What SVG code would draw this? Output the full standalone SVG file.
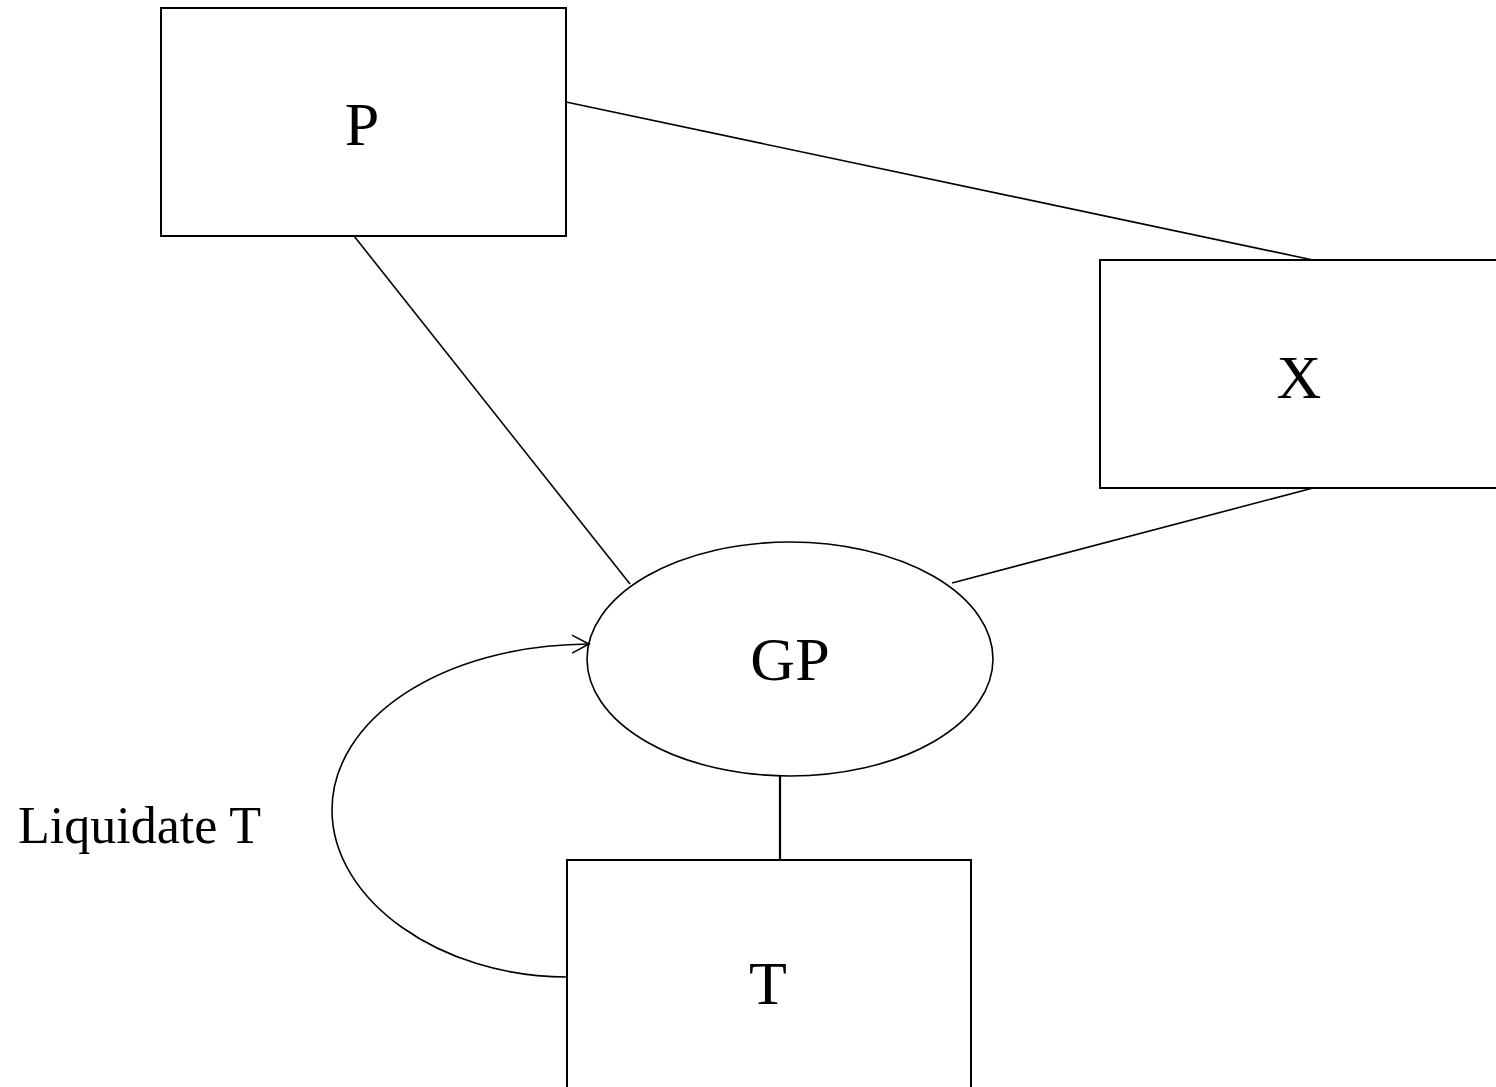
<svg xmlns="http://www.w3.org/2000/svg" width="1496" height="1087" viewBox="0 0 1496 1087">
<style>
.box{fill:#fff;stroke:#000;stroke-width:2}
.lbl{font-family:"Liberation Serif","Times New Roman",serif;font-size:62px;fill:#000;text-anchor:middle}
.edge{fill:none;stroke:#000;stroke-width:1.6}
</style>
<defs>
<marker id="arr" markerWidth="24" markerHeight="24" refX="20" refY="12" orient="auto" markerUnits="userSpaceOnUse">
<path d="M3,3 L20,12 L3,21" fill="none" stroke="#000" stroke-width="1.6"/>
</marker>
</defs>
<rect width="1496" height="1087" fill="#fff"/>
<g id="connectors">
<line class="edge" x1="566" y1="102" x2="1313" y2="260"/>
<line class="edge" x1="354" y1="236" x2="630" y2="584"/>
<line class="edge" x1="1313" y1="488" x2="952" y2="583"/>
<line class="edge" x1="780" y1="776" x2="780" y2="860" style="stroke-width:2.2"/>
<path class="edge" d="M567,977 C440,977 332,900 332,810 C332,720 440,645 589,644" marker-end="url(#arr)"/>
</g>
<g id="P"><rect class="box" x="161" y="8" width="405" height="228"/><text class="lbl" x="362" y="145">P</text></g>
<g id="X"><rect class="box" x="1100" y="260" width="410" height="228"/><text class="lbl" x="1299" y="398">X</text></g>
<g id="GP"><ellipse cx="790" cy="659" rx="203" ry="117" fill="none" stroke="#000" stroke-width="1.6"/><text class="lbl" x="790" y="680">GP</text></g>
<g id="T"><rect class="box" x="567" y="860" width="404" height="240"/><text class="lbl" x="768" y="1004">T</text></g>
<g id="label"><text x="18" y="843" style="font-family:'Liberation Serif','Times New Roman',serif;font-size:52px;fill:#000">Liquidate T</text></g>
</svg>
